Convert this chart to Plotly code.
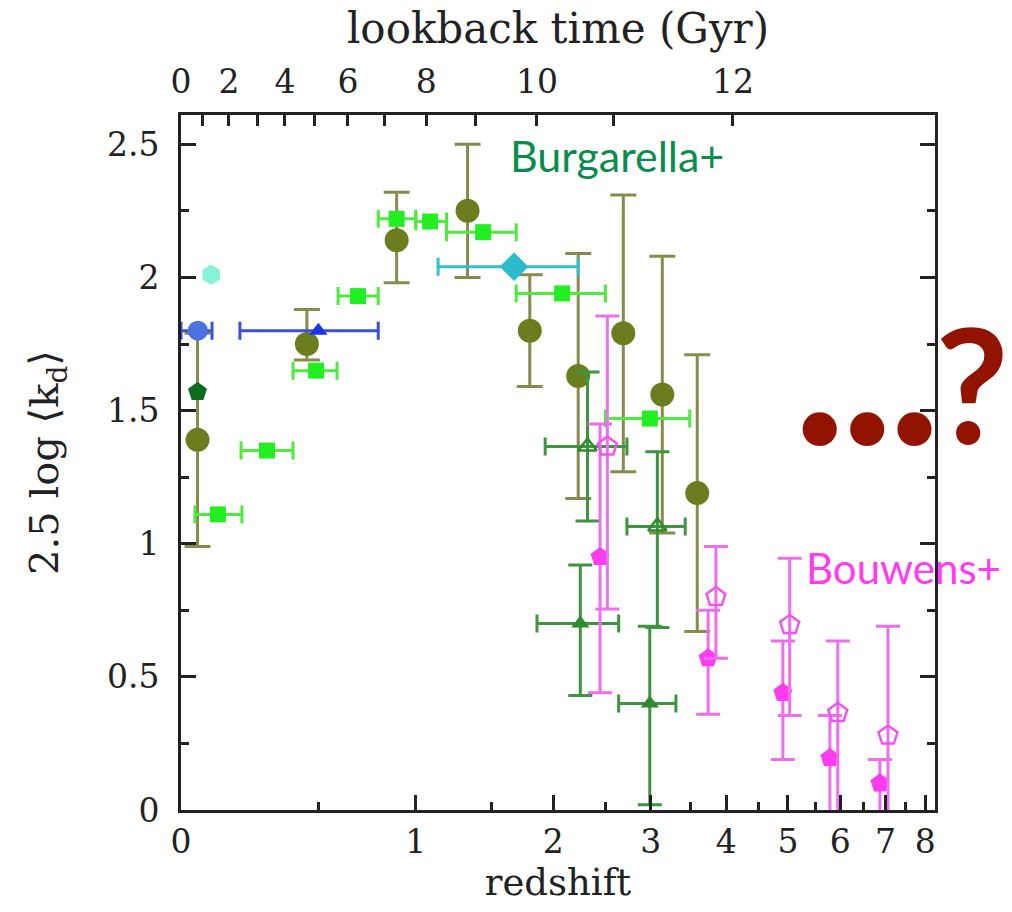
import numpy as np
import plotly.graph_objects as go

# ---------------- data ----------------
# Olive circles (Burgarella+)
olive_z = [0.05, 0.45, 0.89, 1.33, 1.80, 2.23, 2.69, 3.14, 3.59]
olive_y = [1.39, 1.75, 2.14, 2.25, 1.80, 1.63, 1.79, 1.56, 1.19]
olive_ep = [0.40, 0.13, 0.18, 0.25, 0.21, 0.46, 0.52, 0.52, 0.52]
olive_em = [0.40, 0.06, 0.16, 0.25, 0.21, 0.46, 0.52, 0.52, 0.52]

# Bright green squares with redshift bins
sq_z = [0.115, 0.289, 0.49, 0.686, 0.89, 1.086, 1.44, 2.08, 2.99]
sq_zlo = [0.042, 0.194, 0.392, 0.59, 0.79, 1.00, 1.19, 1.69, 2.50]
sq_zhi = [0.197, 0.392, 0.585, 0.79, 1.00, 1.19, 1.69, 2.50, 3.49]
sq_y = [1.11, 1.35, 1.65, 1.93, 2.22, 2.21, 2.17, 1.94, 1.47]

# Cyan diamond
cy_z = [1.673]; cy_zlo = [1.136]; cy_zhi = [2.229]; cy_y = [2.04]
# Aquamarine point
aq_z = [0.093]; aq_y = [2.01]
# Blue circle and triangle
bc_z = [0.051]; bc_zlo = [0.0]; bc_zhi = [0.096]; bc_y = [1.80]
bt_z = [0.50]; bt_zlo = [0.19]; bt_zhi = [0.79]; bt_y = [1.80]
# Dark green pentagon
dg_z = [0.05]; dg_y = [1.57]

# Green triangles (filled)
gtf_z = [2.25, 2.99]; gtf_zlo = [1.86, 2.64]; gtf_zhi = [2.64, 3.31]
gtf_y = [0.70, 0.40]; gtf_ep = [0.22, 0.29]; gtf_em = [0.27, 0.38]
# Green triangles (open)
gto_z = [2.32, 3.08]; gto_zlo = [1.93, 2.73]; gto_zhi = [2.73, 3.43]
gto_y = [1.365, 1.065]; gto_ep = [0.28, 0.28]; gto_em = [0.28, 0.38]

# Magenta pentagons (Bouwens+)
bf_z = [2.445, 3.74, 4.91, 5.79, 6.87]
bf_y = [0.95, 0.57, 0.44, 0.195, 0.10]
bf_ep = [0.50, 0.18, 0.195, 0.16, 0.09]
bf_em = [0.51, 0.21, 0.25, 0.30, 0.20]
bo_z = [2.52, 3.85, 5.03, 5.95, 7.06]
bo_y = [1.365, 0.80, 0.695, 0.365, 0.28]
bo_ep = [0.49, 0.19, 0.25, 0.27, 0.41]
bo_em = [0.61, 0.23, 0.34, 0.40, 0.30]

# axis ticks
z_ticks = [0, 1, 2, 3, 4, 5, 6, 7, 8]
z_minor = [0.5, 1.5, 2.5, 3.5, 4.5, 5.5, 6.5, 7.5]
lookback_major = [0, 2, 4, 6, 8, 10, 12]
lookback_major_z = [0.0, 0.152, 0.359, 0.637, 1.062, 1.86, 4.10]
lookback_minor_z = [0.064, 0.252, 0.485, 0.826, 1.382, 2.58]
y_ticks = [0, 0.5, 1, 1.5, 2, 2.5]
y_ticktext = ["0", "0.5", "1", "1.5", "2", "2.5"]
y_minor = [0.25, 0.75, 1.25, 1.75, 2.25]

ZMAX = 8.26
YMAX = 2.61

# ---------------- figure ----------------
opz = lambda a: [1 + v for v in a]
fig = go.Figure()


def add(z, y, sym, color, size, ecol=None, ep=None, em=None, zlo=None, zhi=None,
        line_w=0, lcol=None, capw=12):
    kw = {}
    if ep is not None:
        kw["error_y"] = dict(type="data", array=ep, arrayminus=em if em is not None else ep,
                             color=ecol or color, thickness=3, width=capw, symmetric=False)
    if zlo is not None:
        kw["error_x"] = dict(type="data", array=[h - c for h, c in zip(zhi, z)],
                             arrayminus=[c - l for c, l in zip(z, zlo)],
                             color=ecol or color, thickness=3, width=9, symmetric=False)
    fig.add_trace(go.Scatter(
        x=opz(z), y=y, mode="markers",
        marker=dict(symbol=sym, color=color, size=size,
                    line=dict(width=line_w, color=lcol or color)),
        showlegend=False, hoverinfo="skip", **kw))


add(olive_z, olive_y, "circle", "#6B7D1E", 24, ecol="#878C4C", ep=olive_ep, em=olive_em, capw=13)
add(sq_z, sq_y, "square", "#22EE22", 16, ecol="#4EEA3E", zlo=sq_zlo, zhi=sq_zhi)
add(cy_z, cy_y, "diamond", "#2BBCCB", 22, ecol="#33BFCC", zlo=cy_zlo, zhi=cy_zhi)
add(aq_z, aq_y, "hexagon", "#86F2D8", 20)
add(bc_z, bc_y, "circle", "#4A72E0", 20, ecol="#3A55D8", zlo=bc_zlo, zhi=bc_zhi)
add(bt_z, bt_y, "triangle-up", "#1A35E6", 16, ecol="#3A50D8", zlo=bt_zlo, zhi=bt_zhi)
add(dg_z, dg_y, "pentagon", "#0E6B1E", 20)
add(gtf_z, gtf_y, "triangle-up", "#2E8B2E", 16, ecol="#3E9440", ep=gtf_ep, em=gtf_em,
    zlo=gtf_zlo, zhi=gtf_zhi, capw=12)
add(gto_z, gto_y, "triangle-up-open", "#2E8B2E", 16, ecol="#3E9440", ep=gto_ep, em=gto_em,
    zlo=gto_zlo, zhi=gto_zhi, line_w=2.5, capw=12)
add(bf_z, bf_y, "pentagon", "#FF3BF0", 20, ecol="#EE6EEE", ep=bf_ep, em=bf_em, capw=12)
add(bo_z, bo_y, "pentagon-open", "#EE55EE", 20, ecol="#EE6EEE", ep=bo_ep, em=bo_em,
    line_w=2.5, capw=12)

# invisible anchor for top axis
fig.add_trace(go.Scatter(x=[1], y=[0], xaxis="x2", mode="markers",
                         marker=dict(opacity=0), showlegend=False, hoverinfo="skip"))

serif = "DejaVu Serif"
axis_common = dict(showgrid=False, zeroline=False, showline=True, linecolor="#222",
                   linewidth=3, ticks="inside", tickcolor="#222", tickwidth=2.5,
                   tickfont=dict(family=serif, size=33, color="#222"))

fig.update_layout(
    width=1012, height=912, autosize=False,
    margin=dict(l=181, r=77, t=115, b=102),
    plot_bgcolor="white", paper_bgcolor="white",
    xaxis=dict(type="log", range=[0, np.log10(1 + ZMAX)],
               tickmode="array", tickvals=opz(z_ticks), ticktext=[str(v) for v in z_ticks],
               ticklen=15,
               minor=dict(tickmode="array", tickvals=opz(z_minor), ticks="inside",
                          ticklen=8, tickwidth=2.5, tickcolor="#222"),
               title=dict(text="redshift", standoff=4,
                          font=dict(family=serif, size=37, color="#222")),
               **axis_common),
    xaxis2=dict(type="log", range=[0, np.log10(1 + ZMAX)], overlaying="x", side="top",
                anchor="y",
                tickmode="array", tickvals=opz(lookback_major_z),
                ticktext=[str(v) for v in lookback_major],
                ticklen=11, ticklabelstandoff=6,
                minor=dict(tickmode="array", tickvals=opz(lookback_minor_z), ticks="inside",
                           ticklen=11, tickwidth=2.5, tickcolor="#222"),
                title=dict(text="lookback time (Gyr)", standoff=6,
                           font=dict(family=serif, size=42, color="#222")),
                **axis_common),
    yaxis=dict(range=[0, YMAX], tickmode="array", tickvals=y_ticks, ticktext=y_ticktext,
               ticklen=15, mirror="ticks", ticklabelstandoff=12,
               minor=dict(tickmode="array", tickvals=y_minor,
                          ticks="inside", ticklen=8, tickwidth=2.5, tickcolor="#222"),
               title=dict(text="2.5 log ⟨k<sub>d</sub>⟩", standoff=36,
                          font=dict(family=serif, size=40, color="#222")),
               **axis_common),
)

fig.add_annotation(text="Burgarella+", xref="paper", yref="paper", x=0.578, y=0.942,
                   xanchor="center", yanchor="middle",
                   showarrow=False, font=dict(family="Lato", size=43, color="#0A8C4E"))
fig.add_annotation(text="Bouwens+", xref="paper", yref="paper", x=0.958, y=0.348,
                   xanchor="center", yanchor="middle",
                   showarrow=False, font=dict(family="Lato", size=42, color="#FF3CF0"))
fig.add_annotation(
    text="<b><span style='font-size:225px;letter-spacing:-6px'>...</span>"
         "<span style='font-size:160px'>?</span></b>",
    xref="paper", yref="paper", x=0.955, y=0.652,
    xanchor="center", yanchor="middle",
    showarrow=False, font=dict(family="Lato", size=160, color="#921400"))

fig.write_html("out.html")
